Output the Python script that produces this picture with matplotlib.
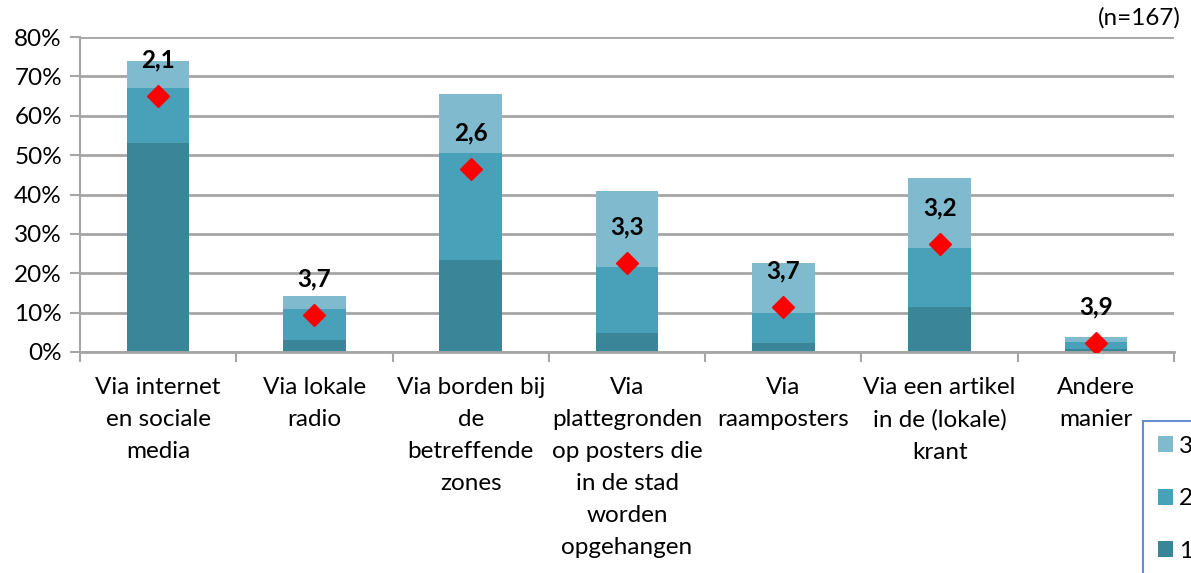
import matplotlib.pyplot as plt
import numpy as np

categories = ["Via internet\nen sociale\nmedia", "Via lokale\nradio",
              "Via borden bij\nde\nbetreffende\nzones",
              "Via\nplattegronden\nop posters die\nin de stad\nworden\nopgehangen",
              "Via\nraamposters", "Via een artikel\nin de (lokale)\nkrant",
              "Andere\nmanier"]
rank1 = [53.0, 3.0, 23.4, 4.9, 2.2, 11.5, 0.8]
rank2 = [14.0, 7.8, 27.1, 16.6, 7.6, 15.0, 1.8]
rank3 = [6.9, 3.4, 14.9, 19.4, 12.7, 17.7, 1.1]
diamond = [65.0, 9.3, 46.5, 22.5, 11.5, 27.5, 2.4]
mean_rank = ["2,1", "3,7", "2,6", "3,3", "3,7", "3,2", "3,9"]

c1 = "#3A8698"
c2 = "#48A1B9"
c3 = "#7FBACE"
grid_c = "#A6A6A6"
fs = 17.5

plt.rcParams['font.family'] = ['Lato', 'DejaVu Sans']

fig = plt.figure(figsize=(11.91, 5.73), dpi=100)
ax = fig.add_axes([80/1191, 1-352/573, (1174-80)/1191, (352-37)/573])

x = np.arange(len(categories))
r1 = np.array(rank1) / 100
r2 = np.array(rank2) / 100
r3 = np.array(rank3) / 100
b1 = ax.bar(x, r1, 0.4, color=c1, label="1")
b2 = ax.bar(x, r2, 0.4, bottom=r1, color=c2, label="2")
b3 = ax.bar(x, r3, 0.4, bottom=r1 + r2, color=c3, label="3")
ax.plot(x, np.array(diamond) / 100, 'D', color="#FF0000", markersize=11, zorder=5)
for xi, yi, lab in zip(x, diamond, mean_rank):
    ax.annotate(lab, (xi, yi / 100), xytext=(0, 26), textcoords='offset points',
                ha='center', va='center', fontsize=fs, fontweight='bold')

ax.set_xlim(-0.5, len(categories) - 0.5)
ax.set_ylim(0, 0.8)
ax.set_yticks(np.arange(0, 0.81, 0.1))
ax.set_yticklabels([f"{int(v)}%" for v in np.arange(0, 81, 10)], fontsize=fs)
ax.yaxis.grid(True, color=grid_c, linewidth=2)
ax.set_axisbelow(True)

ax.set_xticks(x)
ax.set_xticklabels(categories, fontsize=fs, linespacing=1.65)
ax.tick_params(axis='x', length=0, pad=18)
ax.set_xticks(np.arange(-0.5, len(categories)), minor=True)
ax.tick_params(axis='x', which='minor', length=7, color=grid_c, width=1.5)
ax.tick_params(axis='y', length=7, color=grid_c, width=1.5, pad=6)

for s in ['top', 'right']:
    ax.spines[s].set_visible(False)
ax.spines['left'].set_color(grid_c)
ax.spines['left'].set_linewidth(1.5)
ax.spines['bottom'].set_color(grid_c)
ax.spines['bottom'].set_linewidth(2)

fig.text(1181/1191, 1-18/573, "(n=167)", ha='right', va='center', fontsize=fs)

leg = fig.legend(handles=[b3, b2, b1], labels=["3", "2", "1"], loc='upper left',
                 bbox_to_anchor=(1143/1191, 1-421/573), borderaxespad=0,
                 fontsize=fs, handlelength=0.62, handleheight=0.62,
                 handletextpad=0.25, labelspacing=1.3, borderpad=0.6,
                 fancybox=False)
leg.get_frame().set_edgecolor("#4472C4")
leg.get_frame().set_linewidth(1.5)

fig.savefig("out.png", dpi=100)
